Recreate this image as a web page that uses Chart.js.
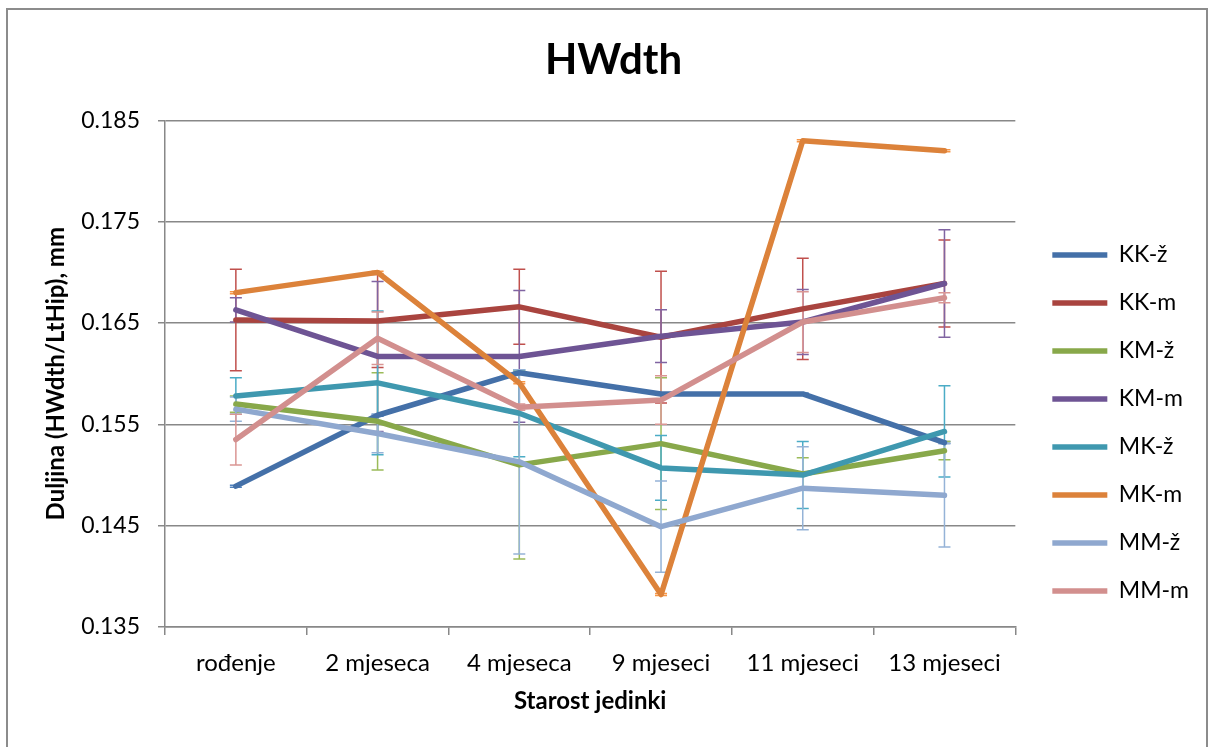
<!DOCTYPE html>
<html lang="hr">
<head>
    <meta charset="UTF-8">
    <title>HWdth</title>
    <script src="https://cdn.jsdelivr.net/npm/chart.js@4.4.0/dist/chart.umd.min.js"></script>
    <style>
        body {
            margin: 0;
            background: #fff;
        }
        .frame {
            position: absolute;
            left: 6px;
            top: 8px;
            width: 1202px;
            height: 780px;
            border: 2px solid #8c8c8c;
            box-sizing: border-box;
        }
        #chart {
            position: absolute;
            left: 0;
            top: 0;
        }
    </style>
</head>
<body>
    <div class="frame"></div>
    <canvas id="chart" width="1213" height="747"></canvas>

    <script>
        // kategorije (starost)
        const categories = ['rođenje', '2 mjeseca', '4 mjeseca', '9 mjeseci', '11 mjeseci', '13 mjeseci'];
        const seriesNames = ['KK-ž', 'KK-m', 'KM-ž', 'KM-m', 'MK-ž', 'MK-m', 'MM-ž', 'MM-m'];

        // srednje vrijednosti
        const kkZ = [0.1489, 0.1559, 0.1601, 0.1580, 0.1580, 0.1532];
        const kkM = [0.1653, 0.1652, 0.1666, 0.1636, 0.1664, 0.1689];
        const kmZ = [0.1570, 0.1553, 0.1510, 0.1531, 0.1501, 0.1524];
        const kmM = [0.1663, 0.1617, 0.1617, 0.1637, 0.1651, 0.1689];
        const mkZ = [0.1578, 0.1591, 0.1561, 0.1507, 0.1500, 0.1543];
        const mkM = [0.1680, 0.1700, 0.1591, 0.1382, 0.1830, 0.1820];
        const mmZ = [0.1565, 0.1541, 0.1513, 0.1449, 0.1487, 0.1480];
        const mmM = [0.1535, 0.1635, 0.1567, 0.1574, 0.1651, 0.1675];

        // standardne pogreske (error bars)
        const kkZErr = [0.0001, 0.0001, 0.0001, 0.0001, 0.0001, 0.0001];
        const kkMErr = [0.0050, 0.0046, 0.0037, 0.0065, 0.0050, 0.0043];
        const kmZErr = [0.0008, 0.0048, 0.0093, 0.0065, 0.0016, 0.0009];
        const kmMErr = [0.0012, 0.0074, 0.0065, 0.0026, 0.0032, 0.0053];
        const mkZErr = [0.0018, 0.0071, 0.0043, 0.0032, 0.0033, 0.0045];
        const mkMErr = [0.0001, 0.0001, 0.0001, 0.0001, 0.0001, 0.0001];
        const mmZErr = [0.0012, 0.0019, 0.0091, 0.0045, 0.0041, 0.0051];
        const mmMErr = [0.0025, 0.0026, 0.0003, 0.0024, 0.0030, 0.0005];

        // y os
        const yMin = 0.135;
        const yMax = 0.185;
        const yStep = 0.01;

        const seriesValues = [kkZ, kkM, kmZ, kmM, mkZ, mkM, mmZ, mmM];
        const seriesErrors = [kkZErr, kkMErr, kmZErr, kmMErr, mkZErr, mkMErr, mmZErr, mmMErr];
        const lineColors = ['#4470a8', '#a9443f', '#88a84a', '#6e5494', '#3f98af', '#dc823a', '#8fa8cf', '#d28f8e'];
        const barColors = ['#4f81bd', '#c0504d', '#9bbb59', '#8064a2', '#4bacc6', '#f79646', '#95b3d7', '#da9694'];

        const FONT = 'Lato, "Open Sans", sans-serif';

        // error bars se crtaju ispod linija
        const errorBars = {
            id: 'errorBars',
            beforeDatasetsDraw(chart) {
                const ctx = chart.ctx;
                const y = chart.scales.y;
                ctx.save();
                ctx.lineWidth = 1.5;
                chart.data.datasets.forEach((ds, i) => {
                    const meta = chart.getDatasetMeta(i);
                    ctx.strokeStyle = barColors[i];
                    meta.data.forEach((pt, j) => {
                        const v = ds.data[j];
                        const e = ds.errors[j];
                        const top = y.getPixelForValue(v + e);
                        const bot = y.getPixelForValue(v - e);
                        ctx.beginPath();
                        ctx.moveTo(pt.x, top);
                        ctx.lineTo(pt.x, bot);
                        ctx.moveTo(pt.x - 6, top);
                        ctx.lineTo(pt.x + 6, top);
                        ctx.moveTo(pt.x - 6, bot);
                        ctx.lineTo(pt.x + 6, bot);
                        ctx.stroke();
                    });
                });
                ctx.restore();
            }
        };

        // legenda i naslov malo pomaknuti (kao u Excelu)
        const boxShift = {
            id: 'boxShift',
            afterLayout(chart) {
                chart.legend.left += 12;
                chart.legend.right += 12;
                chart.legend.top += 59;
                chart.legend.bottom += 59;
                chart.titleBlock.left += 16;
                chart.titleBlock.right += 16;
            }
        };

        const datasets = seriesNames.map((name, i) => ({
            label: name,
            data: seriesValues[i],
            errors: seriesErrors[i],
            borderColor: lineColors[i],
            backgroundColor: lineColors[i],
            borderWidth: 5.5,
            borderCapStyle: 'round',
            borderJoinStyle: 'round',
            pointRadius: 0,
            pointHoverRadius: 0,
            tension: 0,
            order: seriesNames.length - i
        }));

        new Chart(document.getElementById('chart'), {
            type: 'line',
            data: {
                labels: categories,
                datasets: datasets
            },
            plugins: [errorBars, boxShift],
            options: {
                responsive: false,
                animation: false,
                layout: {
                    padding: { left: 8, top: 8, right: 26, bottom: 27 }
                },
                plugins: {
                    title: {
                        display: true,
                        text: 'HWdth',
                        color: '#000',
                        font: { family: FONT, size: 42, weight: 'bold' },
                        padding: { top: 27, bottom: 35 }
                    },
                    legend: {
                        position: 'right',
                        labels: {
                            usePointStyle: true,
                            pointStyle: 'line',
                            pointStyleWidth: 55,
                            boxWidth: 55,
                            padding: 25,
                            color: '#000',
                            font: { family: FONT, size: 23 },
                            sort: (a, b) => a.datasetIndex - b.datasetIndex
                        }
                    },
                    tooltip: { enabled: false }
                },
                scales: {
                    x: {
                        offset: true,
                        afterFit: s => { s.height = 93; },
                        grid: {
                            offset: true,
                            drawOnChartArea: false,
                            drawTicks: true,
                            tickLength: 8,
                            color: '#888',
                            lineWidth: 1.5
                        },
                        border: { color: '#888', width: 1.5 },
                        ticks: {
                            color: '#000',
                            padding: 14,
                            maxRotation: 0,
                            font: { family: FONT, size: 24 }
                        },
                        title: {
                            display: true,
                            text: 'Starost jedinki',
                            color: '#000',
                            font: { family: FONT, size: 24, weight: 'bold' },
                            padding: { top: 0, bottom: 4 }
                        }
                    },
                    y: {
                        min: yMin,
                        max: yMax,
                        afterFit: s => { s.width = 157; },
                        ticks: {
                            stepSize: yStep,
                            color: '#000',
                            padding: 18,
                            font: { family: FONT, size: 23 },
                            callback: v => v.toFixed(3)
                        },
                        grid: {
                            color: '#888',
                            lineWidth: 1.5,
                            tickLength: 7
                        },
                        border: { color: '#888', width: 1.5 },
                        title: {
                            display: true,
                            text: 'Duljina (HWdth/LtHip), mm',
                            color: '#000',
                            font: { family: FONT, size: 24, weight: 'bold' },
                            padding: { top: 34, bottom: 0 }
                        }
                    }
                }
            }
        });
    </script>
</body>
</html>
